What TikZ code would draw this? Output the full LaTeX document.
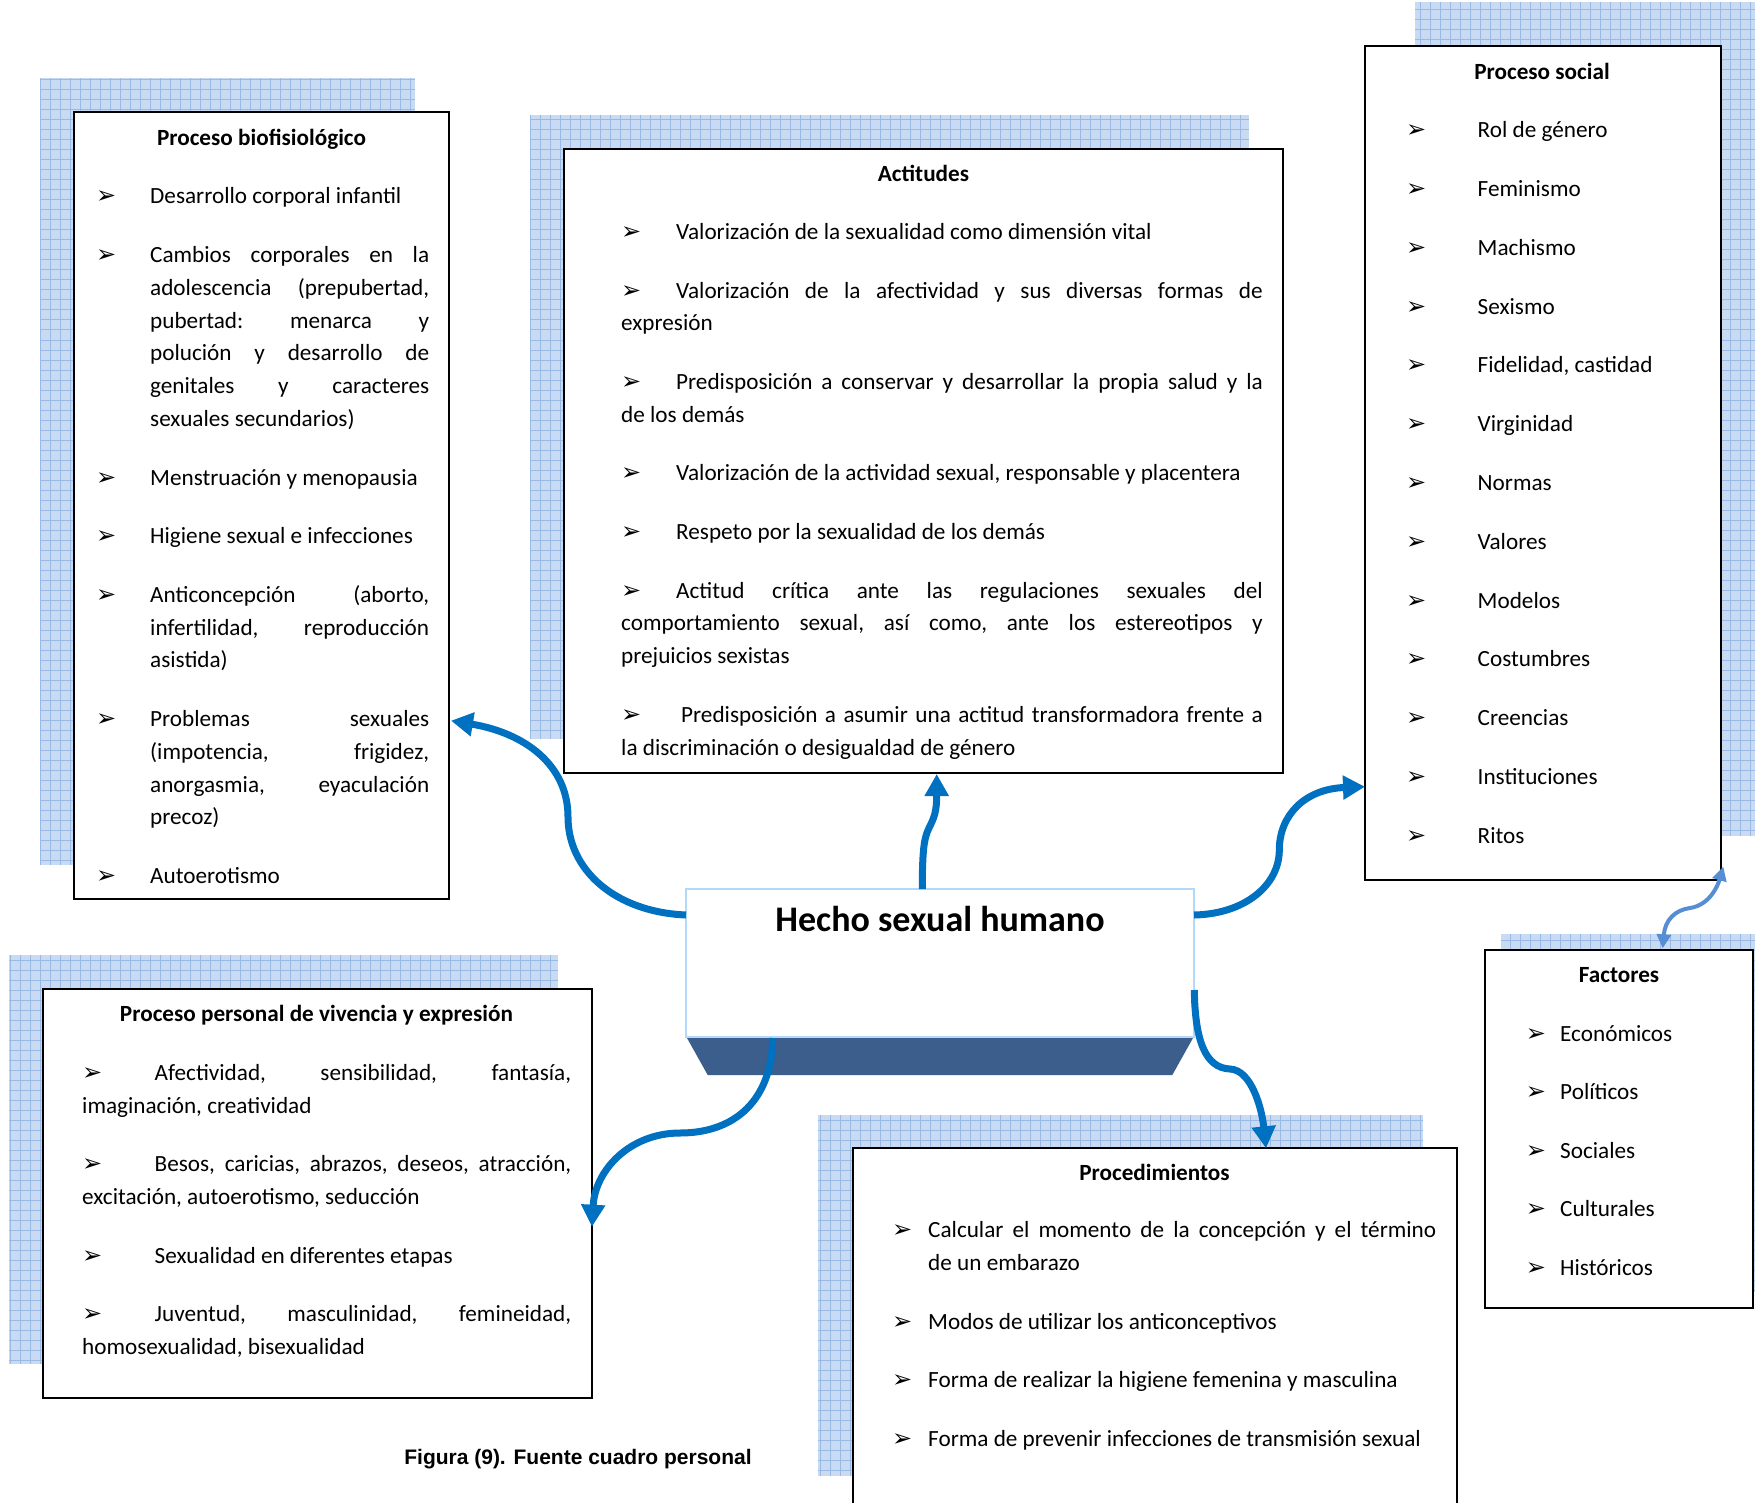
\documentclass[tikz,border=0pt]{standalone}
\usepackage{fontspec}
\setmainfont{Carlito}
\newfontfamily\dejavu{DejaVu Sans}
\newfontfamily\capfont{Liberation Sans}
\usetikzlibrary{arrows.meta,calc}
\definecolor{arrowblue}{HTML}{0070C0}
\definecolor{lightarrow}{HTML}{558ED5}
\definecolor{gridbg}{HTML}{C9DBF3}
\definecolor{gridln}{HTML}{9ABAE6}
\definecolor{trapblue}{HTML}{3B5E8C}
\definecolor{hechoborder}{HTML}{B4D8FA}
\newcommand\bul{{\dejavu\fontsize{24}{24}\selectfont ➢}}
\newcommand\bodyset{\fontsize{23.2}{32.8}\selectfont\setlength{\parskip}{25.8pt}\setlength{\parindent}{0pt}\tolerance=10000\hyphenpenalty=10000\exhyphenpenalty=10000\frenchspacing}
\newcommand\hitem[2]{\noindent\hangindent=#1pt\hangafter=1\rule{0pt}{20pt}\makebox[#1pt][l]{\bul}#2\par}
\newcommand\fitem[2]{\noindent\rule{0pt}{20pt}\makebox[#1pt][l]{\bul}#2\par}
\newcommand\gridshadow[4]{%
  \begin{scope}
  \clip (#1,#2) rectangle (#3,#4);
  \fill[gridbg] (#1,#2) rectangle (#3,#4);
  \draw[gridln, line width=1pt, step=10pt] (#1,#2) grid (#3,#4);
  \end{scope}}
\tikzset{
  panel/.style={draw=black, line width=2pt, fill=white, inner sep=0pt, outer sep=0pt, anchor=north west},
  head/.style={font=\bfseries\fontsize{23.2}{28}\selectfont, inner sep=0pt, anchor=base},
  body/.style={inner sep=0pt, anchor=north west, align=justify},
  conn/.style={arrowblue, line width=7pt, -{Triangle[length=22pt,width=23pt]}},
  fconn/.style={lightarrow, line width=4pt, {Triangle[length=14pt,width=14pt]}-{Triangle[length=14pt,width=14pt]}}
}
\begin{document}
\begin{tikzpicture}[x=1pt,y=-1pt]
\useasboundingbox (0,0) rectangle (1755,1503);
\clip (0,0) rectangle (1755,1503);
\fill[white] (0,0) rectangle (1755,1503);

% grid shadows
\gridshadow{40}{78}{415}{865}
\gridshadow{530}{115}{1249}{739}
\gridshadow{1415}{2}{1771}{836}
\gridshadow{1501}{934}{1769}{1292}
\gridshadow{9}{955}{558}{1364}
\gridshadow{818}{1115}{1423}{1476}

% panels
\node[panel, minimum width=375pt, minimum height=787pt] (bio) at (74,112) {};
\node[panel, minimum width=719pt, minimum height=624pt] (actitudes) at (564,149) {};
\node[panel, minimum width=356pt, minimum height=834pt] (social) at (1365,46) {};
\node[panel, minimum width=268pt, minimum height=358pt] (factores) at (1485,950) {};
\node[panel, minimum width=549pt, minimum height=409pt] (personal) at (43,989) {};
\node[panel, minimum width=604pt, minimum height=370pt] (procedimientos) at (853,1148) {};

% central box
\node[draw=hechoborder, line width=2pt, fill=white, minimum width=508pt, minimum height=148pt, inner sep=0pt, outer sep=0pt, anchor=north west] (hecho) at (686,889) {};
\fill[trapblue] ($(hecho.south west)+(1,1)$) -- ($(hecho.south east)+(-1,1)$) -- ($(hecho.south east)+(-21.7,38)$) -- ($(hecho.south west)+(21.7,38)$) -- cycle;
\draw[hechoborder, line width=2pt] (hecho.south west) -- (hecho.south east);
\node[font=\bfseries\fontsize{36}{40}\selectfont, inner sep=0pt, anchor=base] (hechot) at (940,931.7) {Hecho sexual humano};

% connectors
\draw[conn] ($(hecho.north west)+(0,26)$) .. controls (615,912) and (568,870) .. (568,817)
  .. controls (568,765) and (525,733) .. ($(bio.north east)+(2,608.7)$);
\draw[conn] ($(hecho.north west)+(236.3,0)$) .. controls (922.3,850) and (924,838) .. (929,828)
  .. controls (934,818) and (936.7,812) .. ($(actitudes.south west)+(372.7,1)$);
\draw[conn] ($(hecho.north east)+(0,26)$) .. controls (1245,914) and (1279.3,885) .. (1279.3,850)
  .. controls (1279.3,815) and (1305,789) .. ($(social.south west)+(0,-93.3)$);
\draw[conn] ($(hecho.south west)+(86.7,1)$) .. controls (772,1100) and (735,1133) .. (680,1133)
  .. controls (630,1133) and (595,1170) .. ($(personal.north east)+(0,237.7)$);
\draw[conn] ($(hecho.north east)+(0.3,101)$) .. controls (1195,1040) and (1205,1068) .. (1230,1069)
  .. controls (1252,1070) and (1262,1110) .. ($(procedimientos.north west)+(413,0.3)$);
\draw[fconn] ($(factores.north west)+(177.7,-1.7)$) .. controls (1665,920) and (1675,910) .. (1690,908)
  .. controls (1710,905) and (1718,885) .. ($(social.south east)+(2.3,-13.3)$);

% headings
\node[head] (bioh) at (261.5,145.3) {Proceso biofisiológico};
\node[head] (acth) at (923.5,181.2) {Actitudes};
\node[head] (soch) at (1542,79.3) {Proceso social};
\node[head] (fach) at (1619,982.6) {Factores};
\node[head] (perh) at (316.5,1021.8) {Proceso personal de vivencia y expresión};
\node[head] (proh) at (1154.5,1180.7) {Procedimientos};

% bodies
\node[body, text width=333pt] (biot) at (96,183.7) {\bodyset
\hitem{54}{Desarrollo corporal infantil}
\hitem{54}{Cambios corporales en la\linebreak adolescencia (prepubertad,\linebreak pubertad: menarca y\linebreak polución y desarrollo de\linebreak genitales y caracteres\linebreak sexuales secundarios)}
\hitem{54}{Menstruación y menopausia}
\hitem{54}{Higiene sexual e infecciones}
\hitem{54}{Anticoncepción (aborto,\linebreak infertilidad, reproducción\linebreak asistida)}
\hitem{54}{Problemas sexuales\linebreak (impotencia, frigidez,\linebreak anorgasmia, eyaculación\linebreak precoz)}
\hitem{54}{Autoerotismo}};

\node[body, text width=641.6pt] (actt) at (621,219.4) {\bodyset
\fitem{55}{Valorización de la sexualidad como dimensión vital}
\fitem{55}{Valorización de la afectividad y sus diversas formas de\linebreak expresión}
\fitem{55}{Predisposición a conservar y desarrollar la propia salud y la\linebreak de los demás}
\fitem{55}{Valorización de la actividad sexual, responsable y placentera}
\fitem{55}{Respeto por la sexualidad de los demás}
\fitem{55}{Actitud crítica ante las regulaciones sexuales del\linebreak comportamiento sexual, así como, ante los estereotipos y\linebreak prejuicios sexistas}
\fitem{60}{Predisposición a asumir una actitud transformadora frente a\linebreak la discriminación o desigualdad de género}};

\node[body, text width=310pt] (soct) at (1406,117.5) {\bodyset\setlength{\parskip}{26pt}%
\hitem{71.5}{Rol de género}
\hitem{71.5}{Feminismo}
\hitem{71.5}{Machismo}
\hitem{71.5}{Sexismo}
\hitem{71.5}{Fidelidad, castidad}
\hitem{71.5}{Virginidad}
\hitem{71.5}{Normas}
\hitem{71.5}{Valores}
\hitem{71.5}{Modelos}
\hitem{71.5}{Costumbres}
\hitem{71.5}{Creencias}
\hitem{71.5}{Instituciones}
\hitem{71.5}{Ritos}};

\node[body, text width=220pt] (fact) at (1525.6,1020.8) {\bodyset
\hitem{34.4}{Económicos}
\hitem{34.4}{Políticos}
\hitem{34.4}{Sociales}
\hitem{34.4}{Culturales}
\hitem{34.4}{Históricos}};

\node[body, text width=489pt] (pert) at (82,1060) {\bodyset
\fitem{72.5}{Afectividad, sensibilidad, fantasía,\linebreak imaginación, creatividad}
\fitem{72.5}{Besos, caricias, abrazos, deseos, atracción,\linebreak excitación, autoerotismo, seducción}
\fitem{72.5}{Sexualidad en diferentes etapas}
\fitem{72.5}{Juventud, masculinidad, femineidad,\linebreak homosexualidad, bisexualidad}};

\node[body, text width=544pt] (prot) at (892,1217.5) {\bodyset
\hitem{36}{Calcular el momento de la concepción y el término\linebreak de un embarazo}
\hitem{36}{Modos de utilizar los anticonceptivos}
\hitem{36}{Forma de realizar la higiene femenina y masculina}
\hitem{36}{Forma de prevenir infecciones de transmisión sexual}};

% caption
\node[font=\capfont\bfseries\fontsize{21}{24}\selectfont, inner sep=0pt, anchor=base] (capt) at (578,1464) {Figura (9). Fuente cuadro personal};
\end{tikzpicture}
\end{document}
